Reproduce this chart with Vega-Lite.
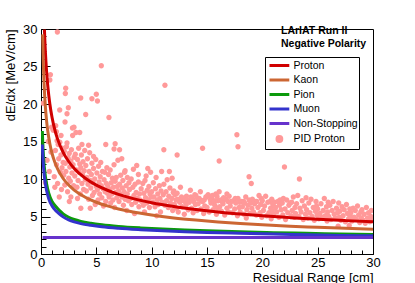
{
"$schema": "https://vega.github.io/schema/vega-lite/v6.json",
"autosize": "none",
"width": 332, "height": 225,
"padding": {"left": 41, "top": 29, "right": 42, "bottom": 29},
"background": "white",
"config": {
  "view": {"stroke": "black", "strokeWidth": 1},
  "font": "Liberation Sans",
  "axis": {"domain": false, "grid": false, "tickColor": "black", "tickWidth": 1,
    "labelFont": "Liberation Sans", "labelFontSize": 13, "labelColor": "black",
    "titleFont": "Liberation Sans", "titleFontSize": 13, "titleFontWeight": "normal", "titleColor": "black"}
},
"title": {"text": ["LArIAT Run II", "Negative Polarity"], "anchor": "start", "frame": "group", "orient": "top",
  "dx": 240, "offset": -26.5, "font": "Liberation Sans", "fontSize": 10.5, "fontWeight": "bold", "color": "black", "lineHeight": 13.5, "align": "left"},
"datasets": {
"pid": [
{"series":"PID Proton","x":0.18,"y":20.1},{"series":"PID Proton","x":0.8,"y":23.2},{"series":"PID Proton","x":0.85,"y":23.9},{"series":"PID Proton","x":0.4,"y":9.5},{"series":"PID Proton","x":0.55,"y":12.5},{"series":"PID Proton","x":0.65,"y":15.0},{"series":"PID Proton","x":0.75,"y":11.0},{"series":"PID Proton","x":0.9,"y":13.6},{"series":"PID Proton","x":0.95,"y":16.9},
{"series":"PID Proton","x":1.48,"y":29.6},{"series":"PID Proton","x":2.2,"y":21.4},{"series":"PID Proton","x":2.23,"y":22.1},{"series":"PID Proton","x":1.69,"y":19.2},
{"series":"PID Proton","x":1.1,"y":16.5},{"series":"PID Proton","x":1.2,"y":10.3},{"series":"PID Proton","x":1.3,"y":13.8},{"series":"PID Proton","x":1.33,"y":17.1},{"series":"PID Proton","x":1.39,"y":16.3},{"series":"PID Proton","x":1.4,"y":11.9},{"series":"PID Proton","x":1.5,"y":9.4},{"series":"PID Proton","x":1.55,"y":14.6},{"series":"PID Proton","x":1.6,"y":12.7},{"series":"PID Proton","x":1.7,"y":14.9},{"series":"PID Proton","x":1.75,"y":10.9},{"series":"PID Proton","x":1.8,"y":13.2},{"series":"PID Proton","x":1.81,"y":15.8},{"series":"PID Proton","x":1.85,"y":8.6},{"series":"PID Proton","x":1.9,"y":11.5},{"series":"PID Proton","x":1.95,"y":14.1},{"series":"PID Proton","x":2.0,"y":12.2},{"series":"PID Proton","x":1.25,"y":8.9},{"series":"PID Proton","x":1.45,"y":15.1},{"series":"PID Proton","x":1.65,"y":7.6},
{"series":"PID Proton","x":2.05,"y":10.5},{"series":"PID Proton","x":2.1,"y":13.7},{"series":"PID Proton","x":2.15,"y":9.2},{"series":"PID Proton","x":2.17,"y":17.6},{"series":"PID Proton","x":2.2,"y":12.1},{"series":"PID Proton","x":2.25,"y":11.0},{"series":"PID Proton","x":2.3,"y":14.3},{"series":"PID Proton","x":2.35,"y":14.8},{"series":"PID Proton","x":2.35,"y":18.7},{"series":"PID Proton","x":2.4,"y":8.3},{"series":"PID Proton","x":2.45,"y":12.8},{"series":"PID Proton","x":2.47,"y":19.5},{"series":"PID Proton","x":2.5,"y":10.1},{"series":"PID Proton","x":2.55,"y":13.4},{"series":"PID Proton","x":2.56,"y":7.0},{"series":"PID Proton","x":2.6,"y":11.6},{"series":"PID Proton","x":2.65,"y":9.7},{"series":"PID Proton","x":2.7,"y":7.6},{"series":"PID Proton","x":2.7,"y":12.4},{"series":"PID Proton","x":2.75,"y":13.9},{"series":"PID Proton","x":2.8,"y":10.8},{"series":"PID Proton","x":2.84,"y":16.8},{"series":"PID Proton","x":2.86,"y":15.8},{"series":"PID Proton","x":2.9,"y":11.9},{"series":"PID Proton","x":2.95,"y":9.1},{"series":"PID Proton","x":2.98,"y":16.9},{"series":"PID Proton","x":3.0,"y":12.9},
{"series":"PID Proton","x":3.05,"y":10.4},{"series":"PID Proton","x":3.1,"y":13.3},{"series":"PID Proton","x":3.16,"y":16.2},{"series":"PID Proton","x":3.2,"y":11.2},{"series":"PID Proton","x":3.25,"y":8.9},{"series":"PID Proton","x":3.3,"y":12.6},{"series":"PID Proton","x":3.35,"y":9.8},{"series":"PID Proton","x":3.4,"y":14.1},{"series":"PID Proton","x":3.45,"y":10.9},{"series":"PID Proton","x":3.5,"y":16.2},{"series":"PID Proton","x":3.5,"y":12.0},{"series":"PID Proton","x":3.55,"y":8.0},{"series":"PID Proton","x":3.59,"y":20.8},{"series":"PID Proton","x":3.6,"y":6.1},{"series":"PID Proton","x":3.6,"y":11.5},{"series":"PID Proton","x":3.65,"y":13.2},{"series":"PID Proton","x":3.7,"y":9.4},{"series":"PID Proton","x":3.75,"y":10.6},{"series":"PID Proton","x":3.8,"y":12.3},{"series":"PID Proton","x":3.85,"y":8.6},{"series":"PID Proton","x":3.9,"y":11.1},{"series":"PID Proton","x":3.95,"y":13.8},{"series":"PID Proton","x":4.0,"y":9.9},{"series":"PID Proton","x":4.04,"y":18.6},{"series":"PID Proton","x":3.3,"y":7.4},{"series":"PID Proton","x":3.7,"y":14.6},
{"series":"PID Proton","x":4.05,"y":11.8},{"series":"PID Proton","x":4.1,"y":8.4},{"series":"PID Proton","x":4.15,"y":10.2},{"series":"PID Proton","x":4.2,"y":12.7},{"series":"PID Proton","x":4.25,"y":9.3},{"series":"PID Proton","x":4.3,"y":7.3},{"series":"PID Proton","x":4.35,"y":11.0},{"series":"PID Proton","x":4.4,"y":13.5},{"series":"PID Proton","x":4.45,"y":9.8},{"series":"PID Proton","x":4.5,"y":8.8},{"series":"PID Proton","x":4.55,"y":10.6},{"series":"PID Proton","x":4.6,"y":20.7},{"series":"PID Proton","x":4.6,"y":12.1},{"series":"PID Proton","x":4.65,"y":7.8},{"series":"PID Proton","x":4.7,"y":9.5},{"series":"PID Proton","x":4.75,"y":11.4},{"series":"PID Proton","x":4.8,"y":8.2},{"series":"PID Proton","x":4.85,"y":10.0},{"series":"PID Proton","x":4.9,"y":6.6},{"series":"PID Proton","x":4.95,"y":12.6},{"series":"PID Proton","x":5.0,"y":21.3},{"series":"PID Proton","x":5.0,"y":9.0},{"series":"PID Proton","x":4.3,"y":14.5},{"series":"PID Proton","x":4.75,"y":13.0},{"series":"PID Proton","x":4.45,"y":6.1},
{"series":"PID Proton","x":5.05,"y":10.8},{"series":"PID Proton","x":5.1,"y":20.4},{"series":"PID Proton","x":5.1,"y":8.6},{"series":"PID Proton","x":5.15,"y":7.2},{"series":"PID Proton","x":5.2,"y":11.7},{"series":"PID Proton","x":5.25,"y":9.6},{"series":"PID Proton","x":5.3,"y":8.0},{"series":"PID Proton","x":5.35,"y":10.3},{"series":"PID Proton","x":5.4,"y":12.2},{"series":"PID Proton","x":5.45,"y":25.1},{"series":"PID Proton","x":5.45,"y":9.1},{"series":"PID Proton","x":5.5,"y":7.5},{"series":"PID Proton","x":5.55,"y":11.0},{"series":"PID Proton","x":5.6,"y":8.7},{"series":"PID Proton","x":5.65,"y":6.4},{"series":"PID Proton","x":5.7,"y":9.9},{"series":"PID Proton","x":5.75,"y":10.9},{"series":"PID Proton","x":5.8,"y":8.3},{"series":"PID Proton","x":5.85,"y":14.6},{"series":"PID Proton","x":5.85,"y":7.0},{"series":"PID Proton","x":5.9,"y":9.4},{"series":"PID Proton","x":5.95,"y":11.5},{"series":"PID Proton","x":6.0,"y":8.1},
{"series":"PID Proton","x":6.05,"y":9.0},{"series":"PID Proton","x":6.1,"y":10.6},{"series":"PID Proton","x":6.14,"y":18.2},{"series":"PID Proton","x":6.15,"y":7.6},{"series":"PID Proton","x":6.2,"y":8.6},{"series":"PID Proton","x":6.25,"y":11.2},{"series":"PID Proton","x":6.3,"y":6.8},{"series":"PID Proton","x":6.35,"y":9.5},{"series":"PID Proton","x":6.4,"y":8.0},{"series":"PID Proton","x":6.45,"y":10.1},{"series":"PID Proton","x":6.5,"y":7.2},{"series":"PID Proton","x":6.55,"y":8.9},{"series":"PID Proton","x":6.6,"y":14.0},{"series":"PID Proton","x":6.6,"y":11.9},{"series":"PID Proton","x":6.65,"y":6.2},{"series":"PID Proton","x":6.7,"y":14.7},{"series":"PID Proton","x":6.7,"y":9.7},{"series":"PID Proton","x":6.75,"y":8.2},{"series":"PID Proton","x":6.8,"y":10.2},{"series":"PID Proton","x":6.85,"y":7.5},{"series":"PID Proton","x":6.9,"y":9.0},{"series":"PID Proton","x":6.95,"y":12.5},{"series":"PID Proton","x":7.0,"y":8.4},
{"series":"PID Proton","x":7.05,"y":7.0},{"series":"PID Proton","x":7.1,"y":13.9},{"series":"PID Proton","x":7.1,"y":9.3},{"series":"PID Proton","x":7.15,"y":8.0},{"series":"PID Proton","x":7.2,"y":10.5},{"series":"PID Proton","x":7.3,"y":12.7},{"series":"PID Proton","x":7.3,"y":7.6},{"series":"PID Proton","x":7.35,"y":8.8},{"series":"PID Proton","x":7.4,"y":9.8},{"series":"PID Proton","x":7.45,"y":6.5},{"series":"PID Proton","x":7.5,"y":8.3},{"series":"PID Proton","x":7.55,"y":10.9},{"series":"PID Proton","x":7.6,"y":11.1},{"series":"PID Proton","x":7.6,"y":7.3},{"series":"PID Proton","x":7.7,"y":9.1},{"series":"PID Proton","x":7.75,"y":5.8},{"series":"PID Proton","x":7.8,"y":10.2},{"series":"PID Proton","x":7.8,"y":8.0},{"series":"PID Proton","x":7.9,"y":7.1},{"series":"PID Proton","x":7.95,"y":9.5},
{"series":"PID Proton","x":8.0,"y":8.6},{"series":"PID Proton","x":8.1,"y":7.4},{"series":"PID Proton","x":8.15,"y":10.0},{"series":"PID Proton","x":8.2,"y":6.6},{"series":"PID Proton","x":8.3,"y":8.9},{"series":"PID Proton","x":8.35,"y":11.3},{"series":"PID Proton","x":8.4,"y":7.8},{"series":"PID Proton","x":8.5,"y":9.3},{"series":"PID Proton","x":8.55,"y":6.9},{"series":"PID Proton","x":8.6,"y":8.2},{"series":"PID Proton","x":8.7,"y":7.4},{"series":"PID Proton","x":8.8,"y":9.6},{"series":"PID Proton","x":8.8,"y":10.6},{"series":"PID Proton","x":8.85,"y":6.3},{"series":"PID Proton","x":8.9,"y":8.0},{"series":"PID Proton","x":8.95,"y":7.2},{"series":"PID Proton","x":8.45,"y":5.4},{"series":"PID Proton","x":8.65,"y":11.8},
{"series":"PID Proton","x":9.05,"y":8.7},{"series":"PID Proton","x":9.1,"y":7.0},{"series":"PID Proton","x":9.2,"y":9.4},{"series":"PID Proton","x":9.25,"y":6.5},{"series":"PID Proton","x":9.3,"y":8.1},{"series":"PID Proton","x":9.4,"y":9.8},{"series":"PID Proton","x":9.45,"y":7.5},{"series":"PID Proton","x":9.5,"y":10.4},{"series":"PID Proton","x":9.55,"y":6.8},{"series":"PID Proton","x":9.6,"y":8.5},{"series":"PID Proton","x":9.7,"y":7.2},{"series":"PID Proton","x":9.75,"y":9.0},{"series":"PID Proton","x":9.8,"y":6.2},{"series":"PID Proton","x":9.85,"y":8.0},{"series":"PID Proton","x":9.9,"y":10.9},{"series":"PID Proton","x":9.95,"y":7.6},{"series":"PID Proton","x":9.35,"y":5.6},{"series":"PID Proton","x":9.65,"y":11.4},
{"series":"PID Proton","x":10.0,"y":8.3},{"series":"PID Proton","x":10.1,"y":6.9},{"series":"PID Proton","x":10.15,"y":9.5},{"series":"PID Proton","x":10.2,"y":7.6},{"series":"PID Proton","x":10.3,"y":6.3},{"series":"PID Proton","x":10.35,"y":8.7},{"series":"PID Proton","x":10.4,"y":10.2},{"series":"PID Proton","x":10.5,"y":7.2},{"series":"PID Proton","x":10.55,"y":8.0},{"series":"PID Proton","x":10.6,"y":6.6},{"series":"PID Proton","x":10.7,"y":9.1},{"series":"PID Proton","x":10.75,"y":7.4},{"series":"PID Proton","x":10.8,"y":5.6},{"series":"PID Proton","x":10.85,"y":8.4},{"series":"PID Proton","x":10.9,"y":11.0},{"series":"PID Proton","x":10.95,"y":6.9},{"series":"PID Proton","x":10.45,"y":5.1},
{"series":"PID Proton","x":11.05,"y":7.9},{"series":"PID Proton","x":11.1,"y":13.9},{"series":"PID Proton","x":11.1,"y":9.3},{"series":"PID Proton","x":11.2,"y":22.5},{"series":"PID Proton","x":11.2,"y":6.5},{"series":"PID Proton","x":11.3,"y":8.3},{"series":"PID Proton","x":11.35,"y":7.1},{"series":"PID Proton","x":11.4,"y":9.9},{"series":"PID Proton","x":11.5,"y":6.2},{"series":"PID Proton","x":11.55,"y":7.7},{"series":"PID Proton","x":11.6,"y":11.0},{"series":"PID Proton","x":11.65,"y":8.8},{"series":"PID Proton","x":11.7,"y":6.8},{"series":"PID Proton","x":11.8,"y":7.4},{"series":"PID Proton","x":11.85,"y":10.1},{"series":"PID Proton","x":11.9,"y":5.8},{"series":"PID Proton","x":11.95,"y":8.2},
{"series":"PID Proton","x":12.0,"y":8.4},{"series":"PID Proton","x":12.05,"y":6.6},{"series":"PID Proton","x":12.1,"y":7.9},{"series":"PID Proton","x":12.2,"y":7.2},{"series":"PID Proton","x":12.25,"y":6.1},{"series":"PID Proton","x":12.3,"y":13.2},{"series":"PID Proton","x":12.3,"y":8.1},{"series":"PID Proton","x":12.35,"y":7.3},{"series":"PID Proton","x":12.4,"y":5.6},{"series":"PID Proton","x":12.5,"y":7.0},{"series":"PID Proton","x":12.55,"y":6.9},{"series":"PID Proton","x":12.6,"y":8.9},{"series":"PID Proton","x":12.7,"y":7.6},{"series":"PID Proton","x":12.75,"y":6.3},{"series":"PID Proton","x":12.8,"y":7.4},{"series":"PID Proton","x":12.9,"y":7.1},{"series":"PID Proton","x":12.95,"y":5.3},
{"series":"PID Proton","x":13.0,"y":7.0},{"series":"PID Proton","x":13.1,"y":6.5},{"series":"PID Proton","x":13.15,"y":7.7},{"series":"PID Proton","x":13.2,"y":7.2},{"series":"PID Proton","x":13.3,"y":5.9},{"series":"PID Proton","x":13.35,"y":7.1},{"series":"PID Proton","x":13.4,"y":6.9},{"series":"PID Proton","x":13.5,"y":8.5},{"series":"PID Proton","x":13.55,"y":7.6},{"series":"PID Proton","x":13.6,"y":6.1},{"series":"PID Proton","x":13.7,"y":7.3},{"series":"PID Proton","x":13.75,"y":5.5},{"series":"PID Proton","x":13.8,"y":7.0},{"series":"PID Proton","x":13.9,"y":7.9},{"series":"PID Proton","x":13.95,"y":6.6},
{"series":"PID Proton","x":14.0,"y":7.8},{"series":"PID Proton","x":14.1,"y":5.8},{"series":"PID Proton","x":14.15,"y":7.4},{"series":"PID Proton","x":14.2,"y":6.7},{"series":"PID Proton","x":14.3,"y":7.4},{"series":"PID Proton","x":14.4,"y":8.3},{"series":"PID Proton","x":14.45,"y":6.0},{"series":"PID Proton","x":14.5,"y":7.1},{"series":"PID Proton","x":14.6,"y":14.1},{"series":"PID Proton","x":14.6,"y":7.0},{"series":"PID Proton","x":14.7,"y":5.4},{"series":"PID Proton","x":14.75,"y":7.2},{"series":"PID Proton","x":14.8,"y":6.4},{"series":"PID Proton","x":14.9,"y":7.6},{"series":"PID Proton","x":14.95,"y":7.6},
{"series":"PID Proton","x":15.0,"y":6.2},{"series":"PID Proton","x":15.1,"y":7.9},{"series":"PID Proton","x":15.2,"y":5.6},{"series":"PID Proton","x":15.3,"y":7.2},{"series":"PID Proton","x":15.35,"y":6.8},{"series":"PID Proton","x":15.4,"y":7.5},{"series":"PID Proton","x":15.45,"y":7.3},{"series":"PID Proton","x":15.5,"y":7.8},{"series":"PID Proton","x":15.55,"y":5.9},{"series":"PID Proton","x":15.6,"y":7.0},{"series":"PID Proton","x":15.7,"y":6.5},{"series":"PID Proton","x":15.75,"y":7.1},{"series":"PID Proton","x":15.8,"y":8.0},{"series":"PID Proton","x":15.85,"y":5.3},{"series":"PID Proton","x":15.9,"y":7.7},{"series":"PID Proton","x":15.95,"y":6.1},
{"series":"PID Proton","x":16.0,"y":7.1},{"series":"PID Proton","x":16.1,"y":12.4},{"series":"PID Proton","x":16.1,"y":8.3},{"series":"PID Proton","x":16.15,"y":6.3},{"series":"PID Proton","x":16.2,"y":7.2},{"series":"PID Proton","x":16.3,"y":5.7},{"series":"PID Proton","x":16.4,"y":6.9},{"series":"PID Proton","x":16.45,"y":6.7},{"series":"PID Proton","x":16.5,"y":7.5},{"series":"PID Proton","x":16.6,"y":5.2},{"series":"PID Proton","x":16.7,"y":7.3},{"series":"PID Proton","x":16.8,"y":8.0},{"series":"PID Proton","x":16.8,"y":6.1},{"series":"PID Proton","x":16.9,"y":7.0},{"series":"PID Proton","x":16.95,"y":5.6},
{"series":"PID Proton","x":17.0,"y":7.7},{"series":"PID Proton","x":17.1,"y":6.4},{"series":"PID Proton","x":17.2,"y":7.0},{"series":"PID Proton","x":17.3,"y":5.5},{"series":"PID Proton","x":17.4,"y":7.1},{"series":"PID Proton","x":17.5,"y":6.0},{"series":"PID Proton","x":17.55,"y":7.4},{"series":"PID Proton","x":17.6,"y":6.8},{"series":"PID Proton","x":17.7,"y":15.9},{"series":"PID Proton","x":17.75,"y":5.1},{"series":"PID Proton","x":17.8,"y":14.3},{"series":"PID Proton","x":17.8,"y":7.4},{"series":"PID Proton","x":17.9,"y":6.2},{"series":"PID Proton","x":17.95,"y":6.9},
{"series":"PID Proton","x":18.0,"y":5.6},{"series":"PID Proton","x":18.1,"y":7.0},{"series":"PID Proton","x":18.2,"y":6.3},{"series":"PID Proton","x":18.3,"y":7.0},{"series":"PID Proton","x":18.35,"y":5.3},{"series":"PID Proton","x":18.4,"y":6.8},{"series":"PID Proton","x":18.5,"y":7.6},{"series":"PID Proton","x":18.6,"y":5.9},{"series":"PID Proton","x":18.7,"y":6.5},{"series":"PID Proton","x":18.8,"y":10.3},{"series":"PID Proton","x":18.8,"y":7.2},{"series":"PID Proton","x":18.9,"y":5.4},{"series":"PID Proton","x":18.95,"y":6.8},{"series":"PID Proton","x":18.55,"y":4.8},
{"series":"PID Proton","x":19.0,"y":9.4},{"series":"PID Proton","x":19.05,"y":6.1},{"series":"PID Proton","x":19.1,"y":7.3},{"series":"PID Proton","x":19.2,"y":5.6},{"series":"PID Proton","x":19.3,"y":6.7},{"series":"PID Proton","x":19.4,"y":7.0},{"series":"PID Proton","x":19.45,"y":5.2},{"series":"PID Proton","x":19.5,"y":7.0},{"series":"PID Proton","x":19.6,"y":6.2},{"series":"PID Proton","x":19.7,"y":7.8},{"series":"PID Proton","x":19.8,"y":5.5},{"series":"PID Proton","x":19.85,"y":6.6},{"series":"PID Proton","x":19.9,"y":7.4},{"series":"PID Proton","x":19.95,"y":4.9},
{"series":"PID Proton","x":20.0,"y":7.1},{"series":"PID Proton","x":20.1,"y":5.8},{"series":"PID Proton","x":20.2,"y":6.4},{"series":"PID Proton","x":20.3,"y":7.7},{"series":"PID Proton","x":20.4,"y":5.1},{"series":"PID Proton","x":20.5,"y":6.9},{"series":"PID Proton","x":20.6,"y":5.5},{"series":"PID Proton","x":20.7,"y":7.0},{"series":"PID Proton","x":20.75,"y":6.1},{"series":"PID Proton","x":20.8,"y":4.7},{"series":"PID Proton","x":20.85,"y":7.3},{"series":"PID Proton","x":20.9,"y":5.8},{"series":"PID Proton","x":20.95,"y":6.6},
{"series":"PID Proton","x":21.0,"y":5.3},{"series":"PID Proton","x":21.1,"y":6.9},{"series":"PID Proton","x":21.2,"y":6.2},{"series":"PID Proton","x":21.3,"y":5.6},{"series":"PID Proton","x":21.4,"y":7.0},{"series":"PID Proton","x":21.5,"y":4.9},{"series":"PID Proton","x":21.55,"y":6.5},{"series":"PID Proton","x":21.6,"y":7.2},{"series":"PID Proton","x":21.7,"y":5.9},{"series":"PID Proton","x":21.8,"y":6.8},{"series":"PID Proton","x":21.85,"y":5.2},{"series":"PID Proton","x":21.9,"y":7.4},{"series":"PID Proton","x":22.0,"y":11.6},
{"series":"PID Proton","x":22.05,"y":6.0},{"series":"PID Proton","x":22.1,"y":4.6},{"series":"PID Proton","x":22.2,"y":7.2},{"series":"PID Proton","x":22.3,"y":5.5},{"series":"PID Proton","x":22.4,"y":6.5},{"series":"PID Proton","x":22.5,"y":6.8},{"series":"PID Proton","x":22.6,"y":5.1},{"series":"PID Proton","x":22.65,"y":6.9},{"series":"PID Proton","x":22.7,"y":5.8},{"series":"PID Proton","x":22.8,"y":7.6},{"series":"PID Proton","x":22.9,"y":4.9},{"series":"PID Proton","x":22.95,"y":6.2},
{"series":"PID Proton","x":23.0,"y":5.4},{"series":"PID Proton","x":23.1,"y":6.7},{"series":"PID Proton","x":23.2,"y":7.8},{"series":"PID Proton","x":23.3,"y":5.0},{"series":"PID Proton","x":23.35,"y":10.0},{"series":"PID Proton","x":23.4,"y":6.1},{"series":"PID Proton","x":23.5,"y":5.6},{"series":"PID Proton","x":23.6,"y":7.1},{"series":"PID Proton","x":23.7,"y":4.6},{"series":"PID Proton","x":23.8,"y":6.4},{"series":"PID Proton","x":23.9,"y":5.3},{"series":"PID Proton","x":23.95,"y":7.5},
{"series":"PID Proton","x":24.0,"y":5.9},{"series":"PID Proton","x":24.1,"y":4.8},{"series":"PID Proton","x":24.2,"y":6.8},{"series":"PID Proton","x":24.3,"y":5.5},{"series":"PID Proton","x":24.4,"y":7.3},{"series":"PID Proton","x":24.5,"y":5.0},{"series":"PID Proton","x":24.6,"y":6.2},{"series":"PID Proton","x":24.7,"y":4.5},{"series":"PID Proton","x":24.8,"y":5.7},{"series":"PID Proton","x":24.85,"y":7.0},{"series":"PID Proton","x":24.9,"y":6.4},{"series":"PID Proton","x":24.95,"y":5.2},
{"series":"PID Proton","x":25.0,"y":6.0},{"series":"PID Proton","x":25.1,"y":4.7},{"series":"PID Proton","x":25.2,"y":5.4},{"series":"PID Proton","x":25.3,"y":6.7},{"series":"PID Proton","x":25.4,"y":4.9},{"series":"PID Proton","x":25.5,"y":5.8},{"series":"PID Proton","x":25.6,"y":7.4},{"series":"PID Proton","x":25.7,"y":5.1},{"series":"PID Proton","x":25.8,"y":6.3},{"series":"PID Proton","x":25.85,"y":4.4},{"series":"PID Proton","x":25.9,"y":5.6},{"series":"PID Proton","x":25.95,"y":6.9},
{"series":"PID Proton","x":26.0,"y":5.0},{"series":"PID Proton","x":26.1,"y":6.5},{"series":"PID Proton","x":26.2,"y":4.6},{"series":"PID Proton","x":26.3,"y":5.8},{"series":"PID Proton","x":26.4,"y":7.0},{"series":"PID Proton","x":26.5,"y":5.3},{"series":"PID Proton","x":26.6,"y":4.8},{"series":"PID Proton","x":26.7,"y":6.1},{"series":"PID Proton","x":26.8,"y":5.5},{"series":"PID Proton","x":26.85,"y":3.7},{"series":"PID Proton","x":26.9,"y":6.8},{"series":"PID Proton","x":26.95,"y":4.9},
{"series":"PID Proton","x":27.0,"y":5.7},{"series":"PID Proton","x":27.1,"y":4.5},{"series":"PID Proton","x":27.2,"y":6.3},{"series":"PID Proton","x":27.3,"y":5.1},{"series":"PID Proton","x":27.4,"y":5.9},{"series":"PID Proton","x":27.5,"y":4.3},{"series":"PID Proton","x":27.6,"y":6.6},{"series":"PID Proton","x":27.7,"y":5.4},{"series":"PID Proton","x":27.8,"y":4.7},{"series":"PID Proton","x":27.85,"y":3.8},{"series":"PID Proton","x":27.9,"y":6.0},{"series":"PID Proton","x":27.95,"y":5.0},
{"series":"PID Proton","x":28.0,"y":5.5},{"series":"PID Proton","x":28.1,"y":4.4},{"series":"PID Proton","x":28.2,"y":6.1},{"series":"PID Proton","x":28.3,"y":4.9},{"series":"PID Proton","x":28.4,"y":5.8},{"series":"PID Proton","x":28.5,"y":4.6},{"series":"PID Proton","x":28.6,"y":6.4},{"series":"PID Proton","x":28.7,"y":5.2},{"series":"PID Proton","x":28.8,"y":4.2},{"series":"PID Proton","x":28.9,"y":5.6},{"series":"PID Proton","x":28.95,"y":4.8},
{"series":"PID Proton","x":29.0,"y":5.9},{"series":"PID Proton","x":29.1,"y":4.5},{"series":"PID Proton","x":29.2,"y":5.3},{"series":"PID Proton","x":29.3,"y":4.1},{"series":"PID Proton","x":29.4,"y":6.2},{"series":"PID Proton","x":29.5,"y":4.8},{"series":"PID Proton","x":29.6,"y":5.5},{"series":"PID Proton","x":29.7,"y":4.3},{"series":"PID Proton","x":29.8,"y":5.0},{"series":"PID Proton","x":29.85,"y":5.8},{"series":"PID Proton","x":29.9,"y":4.6}
],
"curves": [
{"series":"Proton","x":0.31,"y":29.94},{"series":"Proton","x":0.35,"y":28.44},{"series":"Proton","x":0.4,"y":26.87},{"series":"Proton","x":0.5,"y":24.44},{"series":"Proton","x":0.6,"y":22.61},{"series":"Proton","x":0.7,"y":21.18},{"series":"Proton","x":0.8,"y":20.01},{"series":"Proton","x":1,"y":18.2},{"series":"Proton","x":1.25,"y":16.55},{"series":"Proton","x":1.5,"y":15.32},{"series":"Proton","x":2,"y":13.56},{"series":"Proton","x":2.5,"y":12.33},{"series":"Proton","x":3,"y":11.41},{"series":"Proton","x":4,"y":10.1},{"series":"Proton","x":5,"y":9.18},{"series":"Proton","x":6,"y":8.5},{"series":"Proton","x":7,"y":7.96},{"series":"Proton","x":8,"y":7.52},{"series":"Proton","x":10,"y":6.84},{"series":"Proton","x":12,"y":6.33},{"series":"Proton","x":14,"y":5.93},{"series":"Proton","x":16,"y":5.6},{"series":"Proton","x":18,"y":5.33},{"series":"Proton","x":20,"y":5.09},{"series":"Proton","x":22.5,"y":4.85},{"series":"Proton","x":25,"y":4.63},{"series":"Proton","x":27.5,"y":4.45},{"series":"Proton","x":30,"y":4.29},
{"series":"Kaon","x":0.15,"y":29.28},{"series":"Kaon","x":0.2,"y":26.01},{"series":"Kaon","x":0.25,"y":23.72},{"series":"Kaon","x":0.3,"y":22.01},{"series":"Kaon","x":0.4,"y":19.55},{"series":"Kaon","x":0.5,"y":17.83},{"series":"Kaon","x":0.6,"y":16.54},{"series":"Kaon","x":0.8,"y":14.69},{"series":"Kaon","x":1,"y":13.4},{"series":"Kaon","x":1.25,"y":12.22},{"series":"Kaon","x":1.5,"y":11.34},{"series":"Kaon","x":2,"y":10.07},{"series":"Kaon","x":2.5,"y":9.19},{"series":"Kaon","x":3,"y":8.52},{"series":"Kaon","x":4,"y":7.57},{"series":"Kaon","x":5,"y":6.9},{"series":"Kaon","x":6,"y":6.41},{"series":"Kaon","x":7,"y":6.01},{"series":"Kaon","x":8,"y":5.69},{"series":"Kaon","x":10,"y":5.19},{"series":"Kaon","x":12,"y":4.81},{"series":"Kaon","x":14,"y":4.52},{"series":"Kaon","x":16,"y":4.28},{"series":"Kaon","x":18,"y":4.07},{"series":"Kaon","x":20,"y":3.9},{"series":"Kaon","x":22.5,"y":3.71},{"series":"Kaon","x":25,"y":3.56},{"series":"Kaon","x":27.5,"y":3.42},{"series":"Kaon","x":30,"y":3.3},
{"series":"Pion","x":0.12,"y":16.4},{"series":"Pion","x":0.15,"y":15.2},{"series":"Pion","x":0.2,"y":13.6},{"series":"Pion","x":0.3,"y":11.6},{"series":"Pion","x":0.4,"y":10.3},{"series":"Pion","x":0.5,"y":9.4},{"series":"Pion","x":0.7,"y":8.1},{"series":"Pion","x":1.0,"y":7.0},{"series":"Pion","x":1.36,"y":6.3},{"series":"Pion","x":1.7,"y":5.75},{"series":"Pion","x":2,"y":5.35},{"series":"Pion","x":2.5,"y":4.9},{"series":"Pion","x":3,"y":4.6},{"series":"Pion","x":3.6,"y":4.35},{"series":"Pion","x":4.5,"y":4.1},{"series":"Pion","x":5.5,"y":3.9},{"series":"Pion","x":7,"y":3.68},{"series":"Pion","x":9,"y":3.48},{"series":"Pion","x":11,"y":3.33},{"series":"Pion","x":13,"y":3.2},{"series":"Pion","x":15,"y":3.09},{"series":"Pion","x":18,"y":2.96},{"series":"Pion","x":21,"y":2.85},{"series":"Pion","x":24,"y":2.76},{"series":"Pion","x":27,"y":2.68},{"series":"Pion","x":30,"y":2.6},
{"series":"Muon","x":0.12,"y":14.6},{"series":"Muon","x":0.15,"y":13.6},{"series":"Muon","x":0.2,"y":12.2},{"series":"Muon","x":0.3,"y":10.4},{"series":"Muon","x":0.4,"y":9.3},{"series":"Muon","x":0.5,"y":8.5},{"series":"Muon","x":0.7,"y":7.35},{"series":"Muon","x":1.0,"y":6.4},{"series":"Muon","x":1.36,"y":5.75},{"series":"Muon","x":1.7,"y":5.3},{"series":"Muon","x":2,"y":4.95},{"series":"Muon","x":2.5,"y":4.55},{"series":"Muon","x":3,"y":4.28},{"series":"Muon","x":3.6,"y":4.05},{"series":"Muon","x":4.5,"y":3.82},{"series":"Muon","x":5.5,"y":3.62},{"series":"Muon","x":7,"y":3.42},{"series":"Muon","x":9,"y":3.24},{"series":"Muon","x":11,"y":3.1},{"series":"Muon","x":13,"y":2.98},{"series":"Muon","x":15,"y":2.88},{"series":"Muon","x":18,"y":2.76},{"series":"Muon","x":21,"y":2.66},{"series":"Muon","x":24,"y":2.57},{"series":"Muon","x":27,"y":2.48},{"series":"Muon","x":30,"y":2.42},
{"series":"Non-Stopping","x":0.15,"y":2.2},{"series":"Non-Stopping","x":10,"y":2.2},{"series":"Non-Stopping","x":20,"y":2.2},{"series":"Non-Stopping","x":30,"y":2.2}
]
},
"layer": [
{
  "data": {"name": "pid"},
  "mark": {"type": "point", "filled": true, "opacity": 1, "size": 176, "clip": true},
  "encoding": {
    "x": {"field": "x", "type": "quantitative", "scale": {"domain": [0, 30], "nice": false, "zero": false},
      "axis": {"orient": "bottom", "values": [0,5,10,15,20,25,30], "tickSize": -7, "labelPadding": 9, "labelFlush": false,
        "title": "Residual Range [cm]", "titleAnchor": "end", "titlePadding": 2}},
    "y": {"field": "y", "type": "quantitative", "scale": {"domain": [0, 30], "nice": false, "zero": false},
      "axis": {"orient": "left", "values": [0,5,10,15,20,25,30], "tickSize": -9, "labelPadding": 13, "labelFlush": false,
        "title": "dE/dx [MeV/cm]", "titleAnchor": "end", "titlePadding": 5}},
    "color": {"field": "series", "type": "nominal",
      "scale": {"domain": ["Proton","Kaon","Pion","Muon","Non-Stopping","PID Proton"],
                "range": ["#d00000","#cc6633","#0c9a0c","#3333cc","#6633cc","#ff9999"]},
      "legend": {"title": null, "orient": "none", "legendX": 224, "legendY": 28, "direction": "vertical",
        "strokeColor": "black", "fillColor": "white", "padding": 1, "symbolOffset": 5.9, "rowPadding": 0.5, "labelOffset": 6.6,
        "labelFont": "Liberation Sans", "labelFontSize": 10.5, "labelColor": "black", "symbolSize": 144, "symbolOpacity": 1, "symbolStrokeWidth": 0,
        "labelExpr": "datum.label === 'Non-Stopping' ? datum.label + '\u00a0\u00a0\u00a0\u00a0' : datum.label",
        "encode": {"symbols": {"update": {
          "stroke": {"condition": [
            {"test": "datum.value === 'Proton'", "value": "#d00000"},
            {"test": "datum.value === 'Kaon'", "value": "#cc6633"},
            {"test": "datum.value === 'Pion'", "value": "#0c9a0c"},
            {"test": "datum.value === 'Muon'", "value": "#3333cc"},
            {"test": "datum.value === 'Non-Stopping'", "value": "#6633cc"}], "value": "transparent"},
          "strokeWidth": {"condition": {"test": "datum.value === 'PID Proton'", "value": 0}, "value": 3}}}}}},
    "shape": {"field": "series", "type": "nominal",
      "scale": {"domain": ["Proton","Kaon","Pion","Muon","Non-Stopping","PID Proton"],
                "range": ["M-1.65,0H1.65","M-1.65,0H1.65","M-1.65,0H1.65","M-1.65,0H1.65","M-1.65,0H1.65","M-0.4,0A0.4,0.4 0 1,0 0.4,0A0.4,0.4 0 1,0 -0.4,0Z"]},
      "legend": {"title": null, "orient": "none", "legendX": 224, "legendY": 28, "direction": "vertical",
        "strokeColor": "black", "fillColor": "white", "padding": 1, "symbolOffset": 5.9, "rowPadding": 0.5, "labelOffset": 6.6,
        "labelFont": "Liberation Sans", "labelFontSize": 10.5, "labelColor": "black", "symbolSize": 144, "symbolOpacity": 1, "symbolStrokeWidth": 0,
        "labelExpr": "datum.label === 'Non-Stopping' ? datum.label + '\u00a0\u00a0\u00a0\u00a0' : datum.label",
        "encode": {"symbols": {"update": {
          "stroke": {"condition": [
            {"test": "datum.value === 'Proton'", "value": "#d00000"},
            {"test": "datum.value === 'Kaon'", "value": "#cc6633"},
            {"test": "datum.value === 'Pion'", "value": "#0c9a0c"},
            {"test": "datum.value === 'Muon'", "value": "#3333cc"},
            {"test": "datum.value === 'Non-Stopping'", "value": "#6633cc"}], "value": "transparent"},
          "strokeWidth": {"condition": {"test": "datum.value === 'PID Proton'", "value": 0}, "value": 3}}}}}}
  }
},
{
  "data": {"name": "curves"},
  "mark": {"type": "line", "strokeWidth": 3, "clip": true, "interpolate": "monotone"},
  "encoding": {
    "x": {"field": "x", "type": "quantitative",
      "axis": {"orient": "bottom", "values": [0,1,2,3,4,5,6,7,8,9,10,11,12,13,14,15,16,17,18,19,20,21,22,23,24,25,26,27,28,29,30], "tickSize": -4, "labels": false, "title": null}},
    "y": {"field": "y", "type": "quantitative",
      "axis": {"orient": "left", "values": [0,1,2,3,4,5,6,7,8,9,10,11,12,13,14,15,16,17,18,19,20,21,22,23,24,25,26,27,28,29,30], "tickSize": -5, "labels": false, "title": null}},
    "color": {"field": "series", "type": "nominal", "legend": null},
    "order": {"field": "x", "type": "quantitative"}
  }
}
],
"resolve": {"axis": {"x": "independent", "y": "independent"}}
}
